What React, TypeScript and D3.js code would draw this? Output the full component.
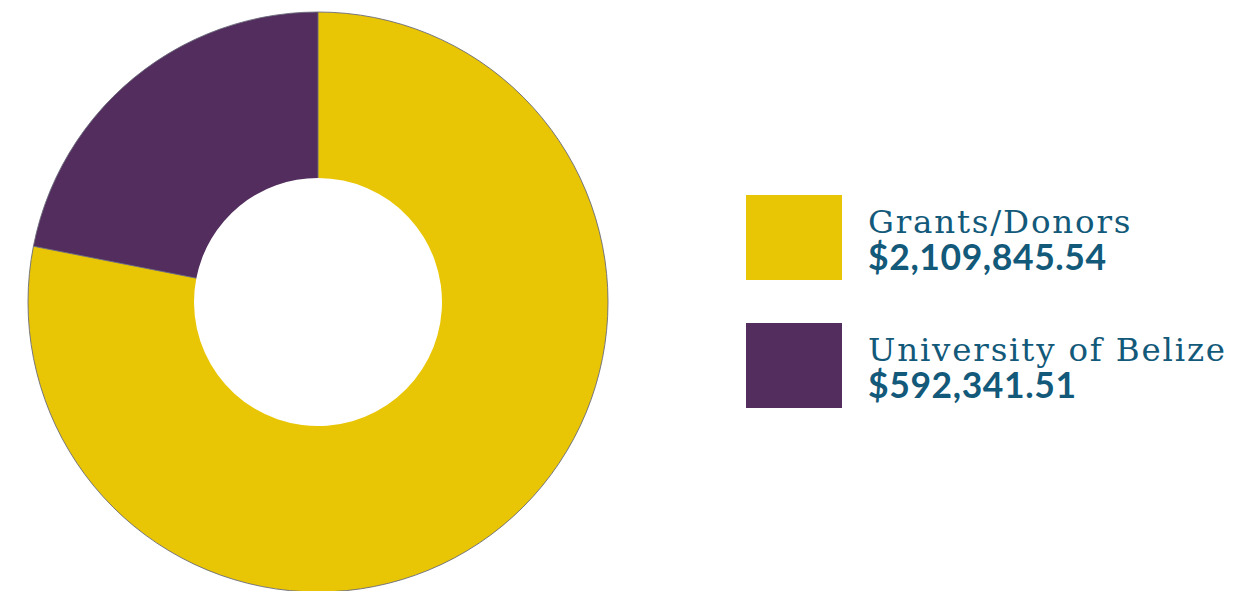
import React from "react";
import * as d3 from "d3";

const categories = ["Grants/Donors", "University of Belize"];
const values = [2109845.54, 592341.51];
const valueLabels = ["$2,109,845.54", "$592,341.51"];
const colors = ["#E8C505", "#522D5E"];

const W = 1260;
const H = 591;

export default function App() {
  const cx = 318;
  const cy = 302;
  const outerR = 290;
  const innerR = 124;
  const pie = d3.pie<number>().sort(null).value((d) => d);
  const arcs = pie(values);
  const arc = d3.arc<d3.PieArcDatum<number>>().innerRadius(innerR).outerRadius(outerR);
  const stroke = "#6b6b7a";

  return (
    <svg width={W} height={H} style={{ position: "absolute", left: 0, top: 0, background: "#fff" }}>
      <g transform={`translate(${cx},${cy})`}>
        {arcs.map((a, i) => (
          <path key={i} d={arc(a) || ""} fill={colors[i]} />
        ))}
        <circle r={outerR} fill="none" stroke={stroke} strokeWidth={0.9} />
        {arcs.map((a, i) => {
          const ang = a.startAngle;
          const s = Math.sin(ang);
          const c = -Math.cos(ang);
          return (
            <line key={"l" + i} x1={s * innerR} y1={c * innerR} x2={s * outerR} y2={c * outerR} stroke={stroke} strokeWidth={0.9} />
          );
        })}
      </g>
      {categories.map((c, i) => {
        const y0 = 195 + i * 128;
        return (
          <g key={c}>
            <rect x={746} y={y0} width={96} height={85} fill={colors[i]} />
            <text x={868} y={y0 + 38} fontFamily="DejaVu Serif" fontSize={32.5} letterSpacing={1.8} fill="#12597A">
              {c}
            </text>
            <text x={868} y={y0 + 75} fontFamily="Lato" fontWeight="bold" fontSize={35.5} letterSpacing={0.6} fill="#12597A">
              {valueLabels[i]}
            </text>
          </g>
        );
      })}
    </svg>
  );
}
